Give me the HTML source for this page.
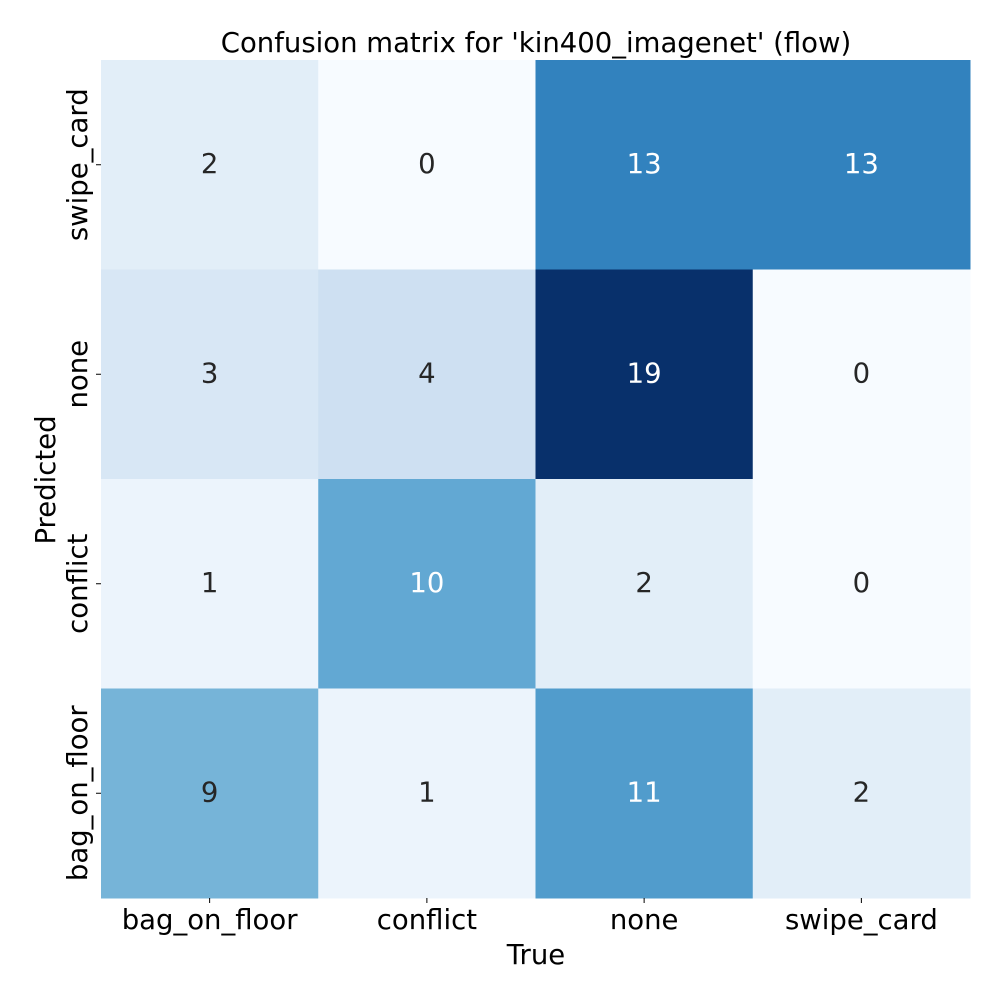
<!DOCTYPE html>
<html><head><meta charset="utf-8"><style>
body{margin:0;background:#fff;width:1000px;height:1000px;overflow:hidden}
svg text{font-family:"DejaVu Sans","Liberation Sans",sans-serif}
</style></head><body>
<svg id="chart" width="1000" height="1000" xmlns="http://www.w3.org/2000/svg">
<text x="536" y="52" font-size="27.5" text-anchor="middle">Confusion matrix for 'kin400_imagenet' (flow)</text>
<g id="cells"></g>
<g id="xticks"></g>
<g id="yticks"></g>
<text x="536" y="964" font-size="27.5" text-anchor="middle">True</text>
<text x="0" y="0" font-size="27.5" text-anchor="middle" transform="translate(55,480) rotate(-90)">Predicted</text>
</svg>
<script>
const xLabels = ["bag_on_floor","conflict","none","swipe_card"];
const yLabels = ["swipe_card","none","conflict","bag_on_floor"];
const row0 = [2,0,13,13];
const row1 = [3,4,19,0];
const row2 = [1,10,2,0];
const row3 = [9,1,11,2];
const rows = [row0,row1,row2,row3];

const L=101,R=970,T=60,B=898;
const cw=(R-L)/xLabels.length, ch=(B-T)/yLabels.length;
const xPos=i=>L+i*cw, yPos=j=>T+j*ch;
const stops=[[247,251,255],[222,235,247],[198,219,239],[158,202,225],[107,174,214],[66,146,198],[33,113,181],[8,81,156],[8,48,107]];
const all=rows.flat(); const vmin=Math.min(...all), vmax=Math.max(...all);
function color(v){let t=(v-vmin)/(vmax-vmin)*(stops.length-1);let i=Math.min(Math.floor(t),stops.length-2);let f=t-i;
 const c=stops[i].map((a,k)=>Math.round(a+(stops[i+1][k]-a)*f));return c;}
function lum(c){const l=c.map(x=>{x/=255;return x<=0.03928?x/12.92:Math.pow((x+0.055)/1.055,2.4)});return 0.2126*l[0]+0.7152*l[1]+0.0722*l[2];}
const NS="http://www.w3.org/2000/svg";
const cells=document.getElementById('cells');
rows.forEach((row,j)=>row.forEach((v,i)=>{
 const c=color(v);
 const r=document.createElementNS(NS,'rect');
 r.setAttribute('x',xPos(i));r.setAttribute('y',yPos(j));r.setAttribute('width',cw+0.5);r.setAttribute('height',ch+0.5);
 r.setAttribute('fill',`rgb(${c})`);
 
 
 cells.appendChild(r);
 const t=document.createElementNS(NS,'text');
 t.setAttribute('x',xPos(i)+cw/2);t.setAttribute('y',yPos(j)+ch/2+8);
 t.setAttribute('font-size','27.5');t.setAttribute('text-anchor','middle');
 t.setAttribute('fill',lum(c)>0.408?'#262626':'#ffffff');
 t.textContent=v;
 
 
 cells.appendChild(t);
}));
const xt=document.getElementById('xticks');
xLabels.forEach((lab,i)=>{
 const x=xPos(i)+cw/2;
 const l=document.createElementNS(NS,'line');
 l.setAttribute('x1',x);l.setAttribute('x2',x);l.setAttribute('y1',B);l.setAttribute('y2',B+5);l.setAttribute('stroke','#000');
 
 
 xt.appendChild(l);
 const t=document.createElementNS(NS,'text');
 t.setAttribute('x',x);t.setAttribute('y',929);t.setAttribute('font-size','27.5');t.setAttribute('text-anchor','middle');
 t.textContent=lab;
 
 
 xt.appendChild(t);
});
const yt=document.getElementById('yticks');
yLabels.forEach((lab,j)=>{
 const y=yPos(j)+ch/2;
 const l=document.createElementNS(NS,'line');
 l.setAttribute('x1',L-5);l.setAttribute('x2',L);l.setAttribute('y1',y);l.setAttribute('y2',y);l.setAttribute('stroke','#000');
 
 
 yt.appendChild(l);
 const t=document.createElementNS(NS,'text');
 t.setAttribute('transform',`translate(87,${y}) rotate(-90)`);t.setAttribute('font-size','27.5');t.setAttribute('text-anchor','middle');
 t.textContent=lab;
 
 
 yt.appendChild(t);
});
</script>
</body></html>
